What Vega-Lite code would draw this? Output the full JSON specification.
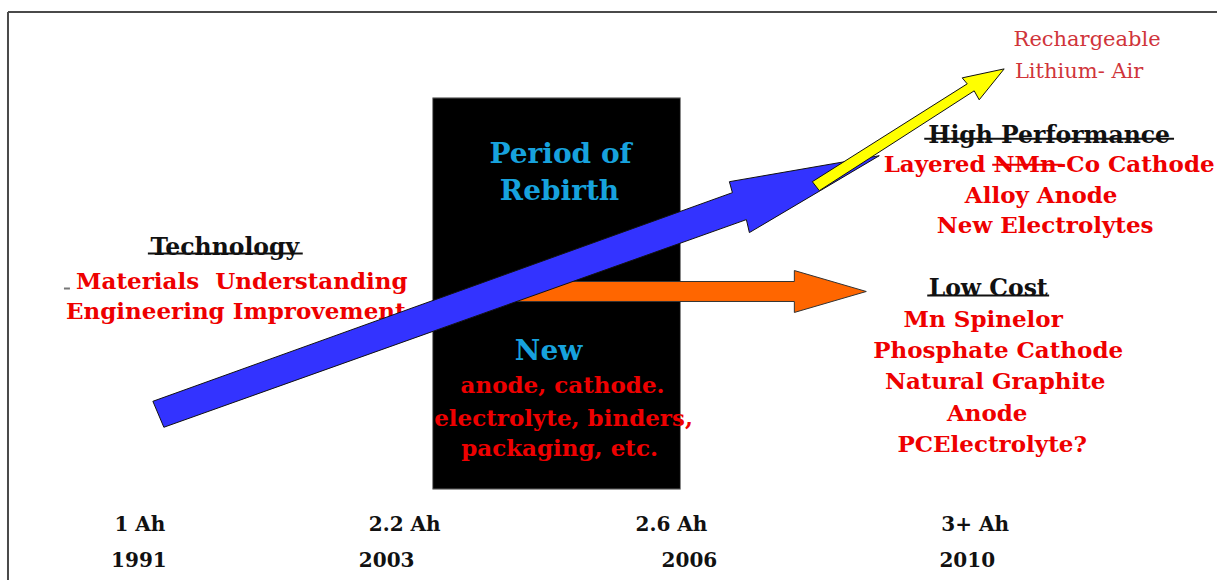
{
  "$schema": "https://vega.github.io/schema/vega-lite/v6.json",
  "width": 1218,
  "height": 581,
  "padding": 0,
  "autosize": {"type": "fit", "contains": "padding"},
  "background": "white",
  "config": {"view": {"stroke": null}},
  "datasets": {
    "boxes": [{"x": 433, "x2": 681, "y": 98, "y2": 490}],
    "labels": [
      {"kind": "redlight", "text": "Rechargeable", "x": 1088, "y": 46},
      {"kind": "redlight", "text": "Lithium- Air", "x": 1080, "y": 78},
      {"kind": "blackbold", "text": "Technology", "x": 225, "y": 255},
      {"kind": "blackbold", "text": "High Performance", "x": 1050, "y": 143},
      {"kind": "blackbold", "text": "Low Cost", "x": 989, "y": 297},
      {"kind": "redbold", "text": "Materials\u00a0 Understanding", "x": 242, "y": 289},
      {"kind": "redbold", "text": "Engineering Improvement", "x": 236, "y": 320},
      {"kind": "redbold", "text": "anode, cathode.", "x": 563, "y": 394},
      {"kind": "redbold", "text": "electrolyte, binders,", "x": 564, "y": 427},
      {"kind": "redbold", "text": "packaging, etc.", "x": 560, "y": 457},
      {"kind": "redbold", "text": "Layered NMn-Co Cathode", "x": 1050, "y": 172},
      {"kind": "redbold", "text": "Alloy Anode", "x": 1042, "y": 203},
      {"kind": "redbold", "text": "New Electrolytes", "x": 1046, "y": 233},
      {"kind": "redbold", "text": "Mn Spinelor", "x": 984, "y": 328},
      {"kind": "redbold", "text": "Phosphate Cathode", "x": 999, "y": 359},
      {"kind": "redbold", "text": "Natural Graphite", "x": 996, "y": 390},
      {"kind": "redbold", "text": "Anode", "x": 988, "y": 422},
      {"kind": "redbold", "text": "PCElectrolyte?", "x": 993, "y": 453},
      {"kind": "cyan", "text": "Period of", "x": 561, "y": 163},
      {"kind": "cyan", "text": "Rebirth", "x": 560, "y": 200},
      {"kind": "cyan", "text": "New", "x": 549, "y": 361},
      {"kind": "axis", "text": "1 Ah", "x": 140, "y": 532},
      {"kind": "axis", "text": "2.2 Ah", "x": 405, "y": 532},
      {"kind": "axis", "text": "2.6 Ah", "x": 672, "y": 532},
      {"kind": "axis", "text": "3+ Ah", "x": 976, "y": 532},
      {"kind": "axis", "text": "1991", "x": 139, "y": 568},
      {"kind": "axis", "text": "2003", "x": 387, "y": 568},
      {"kind": "axis", "text": "2006", "x": 690, "y": 568},
      {"kind": "axis", "text": "2010", "x": 968, "y": 568}
    ],
    "rules": [
      {"kind": "frame", "x": 8, "y": 12, "x2": 1218, "y2": 12},
      {"kind": "frame", "x": 8, "y": 12, "x2": 8, "y2": 581},
      {"kind": "black", "x": 148, "y": 254, "x2": 303, "y2": 254},
      {"kind": "black", "x": 925, "y": 139, "x2": 1175, "y2": 139},
      {"kind": "black", "x": 928, "y": 296, "x2": 1050, "y2": 296},
      {"kind": "red", "x": 993, "y": 165, "x2": 1063, "y2": 165},
      {"kind": "gray", "x": 64, "y": 289, "x2": 70, "y2": 289}
    ],
    "shapes": [
      {"shape": "orange", "i": 1, "x": 505, "y": 282},
      {"shape": "orange", "i": 2, "x": 795, "y": 282},
      {"shape": "orange", "i": 3, "x": 795, "y": 271},
      {"shape": "orange", "i": 4, "x": 867, "y": 292},
      {"shape": "orange", "i": 5, "x": 795, "y": 313},
      {"shape": "orange", "i": 6, "x": 795, "y": 302},
      {"shape": "orange", "i": 7, "x": 505, "y": 302},
      {"shape": "blue", "i": 1, "x": 164, "y": 428},
      {"shape": "blue", "i": 2, "x": 153, "y": 402},
      {"shape": "blue", "i": 3, "x": 733, "y": 193},
      {"shape": "blue", "i": 4, "x": 730, "y": 182},
      {"shape": "blue", "i": 5, "x": 880, "y": 156},
      {"shape": "blue", "i": 6, "x": 750, "y": 233},
      {"shape": "blue", "i": 7, "x": 747, "y": 220},
      {"shape": "yellow", "i": 1, "x": 820, "y": 191},
      {"shape": "yellow", "i": 2, "x": 813, "y": 182},
      {"shape": "yellow", "i": 3, "x": 968, "y": 84},
      {"shape": "yellow", "i": 4, "x": 963, "y": 78},
      {"shape": "yellow", "i": 5, "x": 1005, "y": 69},
      {"shape": "yellow", "i": 6, "x": 980, "y": 100},
      {"shape": "yellow", "i": 7, "x": 975, "y": 91}
    ]
  },
  "encoding": {
    "x": {"field": "x", "type": "quantitative", "axis": null, "scale": {"domain": [0, 1218], "nice": false, "zero": false}},
    "y": {"field": "y", "type": "quantitative", "axis": null, "scale": {"domain": [0, 581], "nice": false, "zero": false, "reverse": true}}
  },
  "layer": [
    {
      "data": {"name": "boxes"},
      "mark": {"type": "rect", "fill": "black", "stroke": "#8a8a8a", "strokeWidth": 1},
      "encoding": {"x2": {"field": "x2"}, "y2": {"field": "y2"}}
    },
    {
      "data": {"name": "labels"},
      "transform": [{"filter": "datum.kind === 'redlight'"}],
      "mark": {"type": "text", "font": "DejaVu Serif", "fontSize": 21, "fontWeight": "normal", "fill": "#D0343A", "align": "center", "baseline": "alphabetic"},
      "encoding": {"text": {"field": "text"}}
    },
    {
      "data": {"name": "labels"},
      "transform": [{"filter": "datum.kind === 'blackbold'"}],
      "mark": {"type": "text", "font": "DejaVu Serif", "fontSize": 23.5, "fontWeight": "bold", "fill": "#111111", "align": "center", "baseline": "alphabetic"},
      "encoding": {"text": {"field": "text"}}
    },
    {
      "data": {"name": "labels"},
      "transform": [{"filter": "datum.kind === 'redbold'"}],
      "mark": {"type": "text", "font": "DejaVu Serif", "fontSize": 23, "fontWeight": "bold", "fill": "#EE0000", "align": "center", "baseline": "alphabetic"},
      "encoding": {"text": {"field": "text"}}
    },
    {
      "data": {"name": "labels"},
      "transform": [{"filter": "datum.kind === 'cyan'"}],
      "mark": {"type": "text", "font": "DejaVu Serif", "fontSize": 28, "fontWeight": "bold", "fill": "#17A2DD", "align": "center", "baseline": "alphabetic"},
      "encoding": {"text": {"field": "text"}}
    },
    {
      "data": {"name": "labels"},
      "transform": [{"filter": "datum.kind === 'axis'"}],
      "mark": {"type": "text", "font": "DejaVu Serif", "fontSize": 20, "fontWeight": "bold", "fill": "#111111", "align": "center", "baseline": "alphabetic"},
      "encoding": {"text": {"field": "text"}}
    },
    {
      "data": {"name": "rules"},
      "mark": {"type": "rule", "strokeWidth": 2},
      "encoding": {
        "x2": {"field": "x2"},
        "y2": {"field": "y2"},
        "color": {"field": "kind", "type": "nominal", "legend": null, "scale": {"domain": ["frame", "black", "red", "gray"], "range": ["#4a4a4a", "#111111", "#EE0000", "#777777"]}}
      }
    },
    {
      "data": {"name": "shapes"},
      "transform": [{"filter": "datum.shape === 'orange'"}],
      "mark": {"type": "line", "interpolate": "linear-closed", "fill": "#FF6600", "stroke": "#333333", "strokeWidth": 1, "fillOpacity": 1},
      "encoding": {"order": {"field": "i", "type": "quantitative"}}
    },
    {
      "data": {"name": "shapes"},
      "transform": [{"filter": "datum.shape === 'blue'"}],
      "mark": {"type": "line", "interpolate": "linear-closed", "fill": "#3333FF", "stroke": "#111111", "strokeWidth": 1, "fillOpacity": 1},
      "encoding": {"order": {"field": "i", "type": "quantitative"}}
    },
    {
      "data": {"name": "shapes"},
      "transform": [{"filter": "datum.shape === 'yellow'"}],
      "mark": {"type": "line", "interpolate": "linear-closed", "fill": "#FFFF00", "stroke": "#111111", "strokeWidth": 1, "fillOpacity": 1},
      "encoding": {"order": {"field": "i", "type": "quantitative"}}
    }
  ]
}
